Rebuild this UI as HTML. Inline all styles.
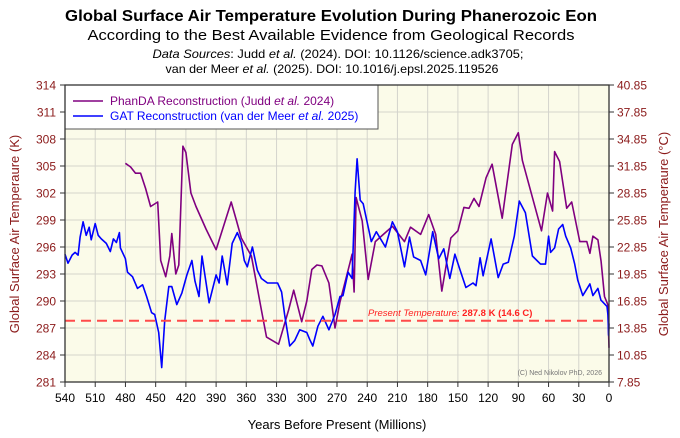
<!DOCTYPE html>
<html><head><meta charset="utf-8"><style>
body{margin:0;background:#fff}
svg{display:block;font-family:"Liberation Sans",Arial,sans-serif}
</style></head><body>
<svg id="c" width="680" height="438" viewBox="0 0 680 438">
<g>
<text x="331" y="21" text-anchor="middle" font-size="16" font-weight="bold" textLength="532" lengthAdjust="spacingAndGlyphs">Global Surface Air Temperature Evolution During Phanerozoic Eon</text>
<text x="331" y="40" text-anchor="middle" font-size="15" textLength="487" lengthAdjust="spacingAndGlyphs">According to the Best Available Evidence from Geological Records</text>
<text x="338" y="58" text-anchor="middle" font-size="12" textLength="371" lengthAdjust="spacingAndGlyphs"><tspan font-style="italic">Data Sources</tspan>: Judd <tspan font-style="italic">et al.</tspan> (2024). DOI: 10.1126/science.adk3705;</text>
<text x="332" y="73" text-anchor="middle" font-size="12" textLength="333" lengthAdjust="spacingAndGlyphs">van der Meer <tspan font-style="italic">et al.</tspan> (2025). DOI: 10.1016/j.epsl.2025.119526</text>
</g>
<rect x="65" y="85" width="544" height="297" fill="#fbfbe9"/>
<g id="grid"></g>
<g id="axes"></g>
<g id="series"></g>
<line id="present" stroke="#ff4a4a" stroke-width="2" stroke-dasharray="10,6"/>
<text x="368" y="316" font-size="9.5" fill="#ff2020"><tspan font-style="italic">Present Temperature:</tspan> <tspan font-weight="bold">287.8 K (14.6 C)</tspan></text>
<text x="602" y="375" text-anchor="end" font-size="7" fill="#777">(C) Ned Nikolov PhD, 2026</text>
<g>
<rect x="65" y="85" width="313" height="44" fill="#fff" stroke="#555" stroke-width="1"/>
<line x1="73" y1="101" x2="103" y2="101" stroke="#800080" stroke-width="1.6"/>
<text x="110" y="105" font-size="12" fill="#800080">PhanDA Reconstruction (Judd <tspan font-style="italic">et al.</tspan> 2024)</text>
<line x1="73" y1="116" x2="103" y2="116" stroke="#0000ff" stroke-width="1.6"/>
<text x="110" y="120" font-size="12" fill="#0000ff">GAT Reconstruction (van der Meer <tspan font-style="italic">et al.</tspan> 2025)</text>
</g>
<rect x="65" y="85" width="544" height="297" fill="none" stroke="#333" stroke-width="1.3"/>
<text x="337" y="429" text-anchor="middle" font-size="13">Years Before Present (Millions)</text>
<text transform="translate(19,234) rotate(-90)" text-anchor="middle" font-size="13" fill="#8b1a1a">Global Surface Air Temperaure (K)</text>
<text transform="translate(668,234) rotate(-90)" text-anchor="middle" font-size="13" fill="#8b1a1a">Global Surface Air Temperaure (°C)</text>
</svg>
<script>
const xTicks=[540,510,480,450,420,390,360,330,300,270,240,210,180,150,120,90,60,30,0];
const yTicksK=[281,284,287,290,293,296,299,302,305,308,311,314];
const yTicksC=["7.85","10.85","13.85","16.85","19.85","22.85","25.85","28.85","31.85","34.85","37.85","40.85"];
const presentK=287.8;
const phandaAge=[480,475,470,465,460,455,448,445,440,436,434,430,427,423,420,415,410,400,390,375,370,365,355,350,345,340,328,318,313,305,300,295,290,285,278,272,267,257,255,253,251,245,239,232,215,203,197,187,179,172,166,157,150,144,139,134,129,122,116,106,96,90,86,67,61,56,54,49,42,37,29,22,19,16,11,7.8,4.5,1.2,0];
const phandaK=[305.3,304.9,304.2,304.2,302.5,300.5,301,294.5,292.7,295,297.5,293,294,307.2,306.5,302,300.5,298,295.7,301,299,297,295,292,289,286,285.2,289,291.2,287.7,290,293.5,294,293.9,292,287,289.9,294.3,295.2,291,301.5,298.9,292.4,296.6,298.3,296.6,298.2,297.4,299.6,297.4,291.1,297,297.8,300.4,300.3,301.4,300.5,303.7,305.2,299.2,307.4,308.7,305.6,297.8,302,300,306.6,305.5,300.3,301,296.6,296.6,295.3,297.2,296.8,294.4,290.5,289.6,284.8];
const gatAge=[540,537,533,530,527,525,522,519,516,514,510,507,504,499,495,492,489,486,485,480,478,473,468,463,459,454,451,447,444,441,437,434,429,424,419,414,411,407,404,397,390,387,384,379,374,369,365,362,359,354,349,345,339,329,325,322,317,312,307,300,297,294,289,284,278,272,267,264,259,255,252,250,247,244,236,231,222,215,210,203,198,194,187,182,175,169,164,158,153,148,142,135,132,128,125,117,110,105,100,94,89,83,76,68,63,60,58,54,50,46,43,38,34,31,26,19,16,11,8,2,1,0.4,0];
const gatK=[295.2,294.2,295.1,295.4,295.1,297.1,298.8,297.3,298.2,296.8,298.6,297.3,296.9,296.4,295.5,296.9,296.5,297.6,295.9,294.7,293.2,292.7,291.4,291.8,290.5,288.7,288.5,286.5,282.6,287.8,291.6,291.6,289.6,290.9,292.9,294.5,292.2,290.5,295,289.8,292.9,292,295,291.8,296.4,297.6,296.5,294.5,293.8,296,293.4,292.5,292,292,291,288.5,285,285.6,286.8,286.5,285.7,285,287.2,288.3,286.8,288.5,290.5,290.6,293.2,292.5,302.1,305.8,301.2,300.8,296.6,297.7,296,298.8,297.7,293.8,297.1,294.9,294.5,292.9,297.7,294.7,295.8,292.5,295.2,293.5,291.5,292,291.7,294.8,292.8,296.9,292.6,294.1,294.3,297.2,301.1,299.8,295,294.1,294.1,297.2,295.4,295.9,298,298.5,297.2,295.9,294.1,292.3,290.6,291.9,290.6,291.4,290.1,289.4,288.4,286.2,287.5];

const NS="http://www.w3.org/2000/svg";
const X0=65,X1=609,Y0=382,Y1=85;
const xs=a=>X0+(540-a)/540*(X1-X0);
const ys=k=>Y0-(k-281)/33*(Y0-Y1);
function mk(tag,attrs,parent){const e=document.createElementNS(NS,tag);for(const k in attrs)e.setAttribute(k,attrs[k]);parent.appendChild(e);return e;}
const grid=document.getElementById('grid'),axes=document.getElementById('axes'),series=document.getElementById('series');
xTicks.forEach(t=>{
  const x=xs(t);
  if(t!==540&&t!==0){const g=mk('line',{x1:x,x2:x,y1:Y1,y2:Y0,stroke:'#d4d4cc','stroke-width':1},grid);
  
  }
  const tk=mk('line',{x1:x,x2:x,y1:Y0,y2:Y0+5,stroke:'#333'},axes);
  
  
  const tx=mk('text',{x:x,y:Y0+20,'text-anchor':'middle','font-size':12},axes);
  tx.textContent=t;
  
  
});
yTicksK.forEach((t,i)=>{
  const y=ys(t);
  if(i>0&&i<yTicksK.length-1){const g=mk('line',{x1:X0,x2:X1,y1:y,y2:y,stroke:'#d4d4cc','stroke-width':1},grid);
  
  }
  const tl=mk('line',{x1:X0-5,x2:X0,y1:y,y2:y,stroke:'#333'},axes);
  
  
  const tr=mk('line',{x1:X1,x2:X1+5,y1:y,y2:y,stroke:'#333'},axes);
  
  
  const a=mk('text',{x:X0-9,y:y+4.5,'text-anchor':'end','font-size':12,fill:'#8b1a1a'},axes);
  a.textContent=t;
  
  
  const b=mk('text',{x:X1+8,y:y+4.5,'font-size':12,fill:'#8b1a1a'},axes);
  b.textContent=yTicksC[i];
  
  
});
const pl=document.getElementById('present');
pl.setAttribute('x1',X0);pl.setAttribute('x2',X1);pl.setAttribute('y1',ys(presentK));pl.setAttribute('y2',ys(presentK));
function line(ages,vals,col,name){
  const d=ages.map((a,i)=>(i?'L':'M')+xs(a).toFixed(1)+' '+ys(vals[i]).toFixed(1)).join(' ');
  const p=mk('path',{d:d,fill:'none',stroke:col,'stroke-width':1.6,'stroke-linejoin':'round'},series);
  
  
}
line(phandaAge,phandaK,'#800080','phanda-line');
line(gatAge,gatK,'#0000ff','gat-line');
</script>
</body></html>
